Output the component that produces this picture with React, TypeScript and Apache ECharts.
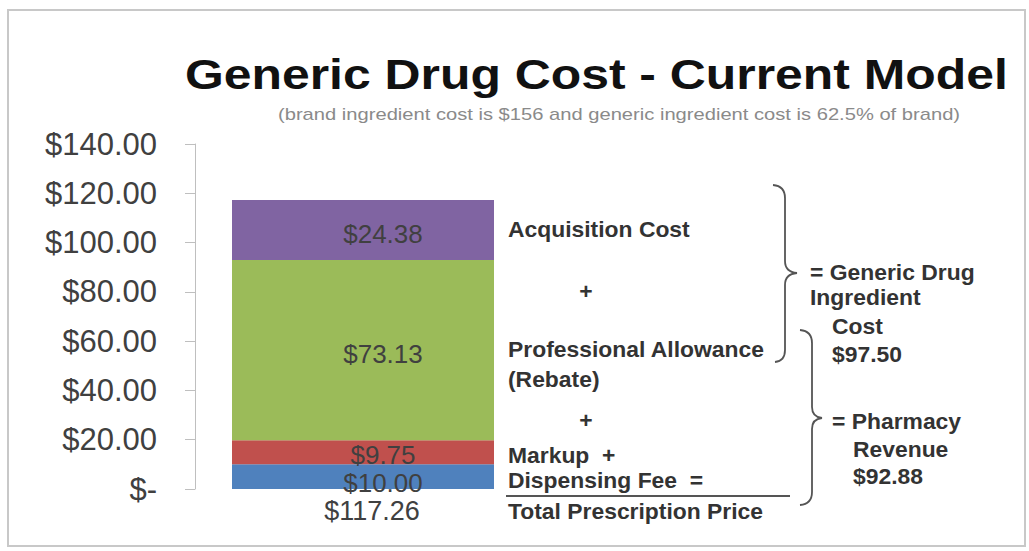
import React, { useEffect, useRef } from "react";
import * as echarts from "echarts";

// ---- data ----
const categories = ["$117.26"];
const seriesNames = ["Dispensing Fee", "Markup", "Professional Allowance (Rebate)", "Acquisition Cost"];
const dispensingFee = [10.0];
const markup = [9.75];
const professionalAllowance = [73.13];
const acquisitionCost = [24.38];
const yTickLabels = ["$-", "$20.00", "$40.00", "$60.00", "$80.00", "$100.00", "$120.00", "$140.00"];
const titleText = "Generic Drug Cost - Current Model";
const subtitleText = "(brand ingredient cost is $156 and generic ingredient cost is 62.5% of brand)";
const ingredientCostLines = ["= Generic Drug", "Ingredient", "Cost", "$97.50"];
const pharmacyRevenueLines = ["= Pharmacy", "Revenue", "$92.88"];

const FONT = "'Liberation Sans', Arial, Helvetica, sans-serif";
const colors = ["#4F81BD", "#C0504D", "#9BBB59", "#8064A2"];

const brace1 =
  "M773 185 Q785 186 785 198 L785 261 Q785 272 797 273 Q785 274 785 285 L785 350 Q785 361 775 362";
const brace2 =
  "M800 330 Q812 331 812 343 L812 407 Q812 417 822 418 Q812 419 812 429 L812 492 Q812 504 800 505";
echarts.graphic.registerShape("brace1", echarts.graphic.extendPath(brace1, {}));
echarts.graphic.registerShape("brace2", echarts.graphic.extendPath(brace2, {}));

function boldText(text: string, x: number, y: number, align: string = "left") {
  return {
    type: "text",
    x,
    y,
    style: {
      text,
      font: `bold 22px ${FONT}`,
      fill: "#333333",
      textAlign: align,
      textVerticalAlign: "middle",
    },
    scaleX: 1.04,
  };
}

export default function App() {
  const ref = useRef<HTMLDivElement>(null);
  useEffect(() => {
    if (!ref.current) return;
    const chart = echarts.init(ref.current, null, { renderer: "svg" });
    const dataSets = [dispensingFee, markup, professionalAllowance, acquisitionCost];
    const labelOffsets = [[20, 6], [20, 3], [20, 4], [20, 4]];
    const series = dataSets.map((d, i) => ({
      name: seriesNames[i],
      type: "bar",
      stack: "total",
      data: d,
      barWidth: 262,
      itemStyle: { color: colors[i] },
      label: {
        show: true,
        position: "inside",
        offset: labelOffsets[i],
        formatter: (p: any) => "$" + Number(p.value).toFixed(2),
        color: "#404040",
        fontSize: 26,
        fontFamily: FONT,
      },
    }));

    const option: any = {
      animation: false,
      backgroundColor: "#ffffff",
      grid: { left: 195, right: 498, top: 144, bottom: 62, containLabel: false },
      xAxis: {
        type: "category",
        data: categories,
        axisLine: { show: false },
        axisTick: { show: false },
        axisLabel: {
          fontSize: 27,
          color: "#404040",
          fontFamily: FONT,
          margin: 8,
          padding: [0, 0, 0, 18],
        },
      },
      yAxis: {
        type: "value",
        min: 0,
        max: 140,
        interval: 20,
        splitLine: { show: false },
        axisLine: { show: true, lineStyle: { color: "#bfbfbf", width: 1 } },
        axisTick: { show: true, length: 10, lineStyle: { color: "#bfbfbf" } },
        axisLabel: {
          fontSize: 31,
          color: "#404040",
          fontFamily: FONT,
          margin: 38,
          formatter: (v: number) => yTickLabels[Math.round(v / 20)],
        },
      },
      series,
      graphic: [
        {
          type: "rect",
          shape: { x: 8, y: 10, width: 1017, height: 536 },
          style: { fill: "none", stroke: "#c8c8c8", lineWidth: 2 },
        },
        {
          type: "text",
          x: 185,
          y: 74,
          scaleX: 1.16,
          style: {
            text: titleText,
            font: `bold 43px ${FONT}`,
            fill: "#111111",
            textAlign: "left",
            textVerticalAlign: "middle",
          },
        },
        {
          type: "text",
          x: 278,
          y: 115,
          scaleX: 1.26,
          style: {
            text: subtitleText,
            font: `16px ${FONT}`,
            fill: "#8a8a8a",
            textAlign: "left",
            textVerticalAlign: "middle",
          },
        },
        boldText("Acquisition Cost", 508, 230),
        boldText("+", 586, 292, "center"),
        boldText("Professional Allowance", 508, 350),
        boldText("(Rebate)", 508, 380),
        boldText("+", 586, 421, "center"),
        boldText("Markup  +", 508, 456),
        boldText("Dispensing Fee  =", 508, 481),
        boldText("Total Prescription Price", 508, 512),
        {
          type: "line",
          shape: { x1: 506, y1: 496, x2: 790, y2: 496 },
          style: { stroke: "#555555", lineWidth: 2 },
        },
        { type: "brace1", x: 0, y: 0, style: { fill: "none", stroke: "#555555", lineWidth: 1.8 } },
        { type: "brace2", x: 0, y: 0, style: { fill: "none", stroke: "#555555", lineWidth: 1.8 } },
        boldText(ingredientCostLines[0], 810, 273),
        boldText(ingredientCostLines[1], 810, 298),
        boldText(ingredientCostLines[2], 832, 327),
        boldText(ingredientCostLines[3], 832, 355),
        boldText(pharmacyRevenueLines[0], 832, 422),
        boldText(pharmacyRevenueLines[1], 853, 450),
        boldText(pharmacyRevenueLines[2], 853, 477),
      ],
    };
    chart.setOption(option);
    return () => chart.dispose();
  }, []);
  return (
    <div
      ref={ref}
      style={{ position: "fixed", left: 0, top: 0, width: 1029, height: 551 }}
    />
  );
}
